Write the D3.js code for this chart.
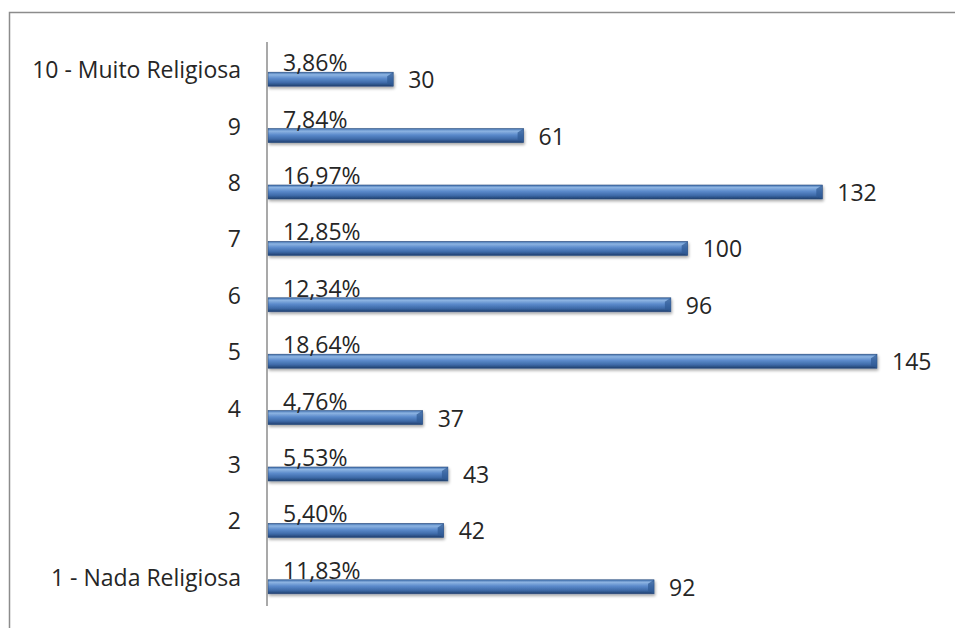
<!DOCTYPE html>
<html>
<meta charset="utf-8">
<head>
    <script src="https://d3js.org/d3.v7.min.js"></script>
</head>
<style>
  body { margin: 0; background: #fff; }
  svg text { font-family: "Open Sans", sans-serif; fill: #262626; }
  svg .cat-label { font-size: 23px; text-anchor: end; }
  svg .val-label { font-size: 23px; }
  svg .pct-label { font-size: 23px; }
</style>
<body>
<script>

    var categories = ["1 - Nada Religiosa", "2", "3", "4", "5", "6", "7", "8", "9", "10 - Muito Religiosa"];
    var counts = [92, 42, 43, 37, 145, 96, 100, 132, 61, 30];
    var percents = ["11,83%", "5,40%", "5,53%", "4,76%", "18,64%", "12,34%", "12,85%", "16,97%", "7,84%", "3,86%"];

    var width = 955,
        height = 628;

    var data = categories.map(function(c, i) {
        return { cat: c, count: counts[i], pct: percents[i] };
    });

    var svg = d3.select("body").append("svg")
        .attr("width", width)
        .attr("height", height);

    var defs = svg.append("defs");
    var grad = defs.append("linearGradient")
        .attr("id", "barGrad")
        .attr("x1", 0).attr("y1", 0).attr("x2", 0).attr("y2", 1);
    grad.append("stop").attr("offset", "0%").attr("stop-color", "#3f6fae");
    grad.append("stop").attr("offset", "18%").attr("stop-color", "#8db4e2");
    grad.append("stop").attr("offset", "45%").attr("stop-color", "#5b8acb");
    grad.append("stop").attr("offset", "75%").attr("stop-color", "#3e6aa8");
    grad.append("stop").attr("offset", "100%").attr("stop-color", "#1f3f6e");

    var shadow = defs.append("filter").attr("id", "shadow")
        .attr("x", "-5%").attr("y", "-50%").attr("width", "110%").attr("height", "250%");
    shadow.append("feGaussianBlur").attr("in", "SourceAlpha").attr("stdDeviation", 1.5);
    shadow.append("feOffset").attr("dx", 1).attr("dy", 2).attr("result", "off");
    shadow.append("feComponentTransfer").append("feFuncA").attr("type", "linear").attr("slope", 0.35);
    var merge = shadow.append("feMerge");
    merge.append("feMergeNode");
    merge.append("feMergeNode").attr("in", "SourceGraphic");

    // outer frame (right and bottom fall outside the picture)
    svg.append("path")
        .attr("d", "M9.5," + (height + 2) + "V12.5H" + (width + 2))
        .attr("fill", "none")
        .attr("stroke", "#8c8c8c")
        .attr("stroke-width", 1.5);

    var x = d3.scaleLinear()
        .domain([0, 145])
        .range([267, 877]);

    var y = d3.scaleBand()
        .domain(categories.slice().reverse())
        .range([42, 606]);

    var barH = 14,
        barOff = 9;

    var g = svg.append("g");

    g.selectAll("rect.bar")
        .data(data)
        .enter().append("rect")
        .attr("class", "bar")
        .attr("x", x(0) + 1)
        .attr("y", function(d) { return y(d.cat) + y.bandwidth() / 2 + barOff - barH / 2; })
        .attr("width", function(d) { return x(d.count) - x(0) - 1; })
        .attr("height", barH)
        .attr("fill", "url(#barGrad)")
        .attr("stroke", "#2c4d7e")
        .attr("stroke-width", 0.6)
        .attr("filter", "url(#shadow)");

    // bevelled right ends
    g.selectAll("path.bevel")
        .data(data)
        .enter().append("path")
        .attr("class", "bevel")
        .attr("d", function(d) {
            var x1 = x(d.count), yt = y(d.cat) + y.bandwidth() / 2 + barOff - barH / 2;
            return "M" + (x1 - 6) + "," + (yt + 4) + "L" + x1 + "," + yt + "L" + x1 + "," + (yt + barH) + "L" + (x1 - 6) + "," + (yt + barH - 3) + "Z";
        })
        .attr("fill", "#2f5a94")
        .attr("opacity", 0.7);

    // axis line
    svg.append("line")
        .attr("x1", x(0)).attr("x2", x(0))
        .attr("y1", 42).attr("y2", 606)
        .attr("stroke", "#8c8c8c")
        .attr("stroke-width", 1.5);

    g.selectAll("text.cat-label")
        .data(data)
        .enter().append("text")
        .attr("class", "cat-label")
        .attr("x", 241)
        .attr("y", function(d) { return y(d.cat) + y.bandwidth() / 2; })
        .attr("dy", "0.35em")
        .text(function(d) { return d.cat; });

    g.selectAll("text.val-label")
        .data(data)
        .enter().append("text")
        .attr("class", "val-label")
        .attr("x", function(d) { return x(d.count) + 15; })
        .attr("y", function(d) { return y(d.cat) + y.bandwidth() / 2 + barOff + 1; })
        .attr("dy", "0.35em")
        .text(function(d) { return d.count; });

    g.selectAll("text.pct-label")
        .data(data)
        .enter().append("text")
        .attr("class", "pct-label")
        .attr("x", x(0) + 16)
        .attr("y", function(d) { return y(d.cat) + y.bandwidth() / 2 + barOff - barH / 2 - 1; })
        .text(function(d) { return d.pct; });

</script>
</body>
</html>
